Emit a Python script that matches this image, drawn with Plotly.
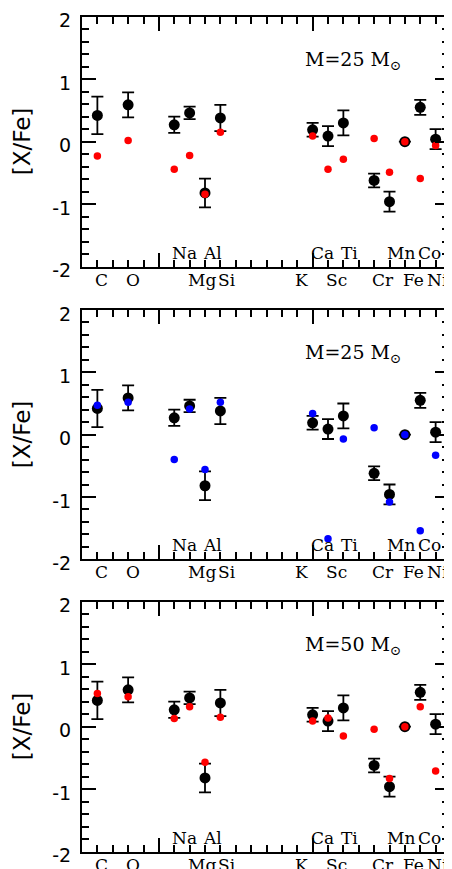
import plotly.graph_objects as go

# ---------------- data ----------------
label_elements = ["C", "O", "Na", "Mg", "Al", "Si", "K", "Ca", "Sc", "Ti", "Cr", "Mn", "Fe", "Co", "Ni"]
label_Z = [6, 8, 11, 12, 13, 14, 19, 20, 21, 22, 24, 25, 26, 27, 28]
label_upper = ["Na", "Al", "Ca", "Ti", "Mn", "Co"]

data_Z = [6, 8, 11, 12, 13, 14, 20, 21, 22, 24, 25, 26, 27, 28]
obs = [0.42, 0.59, 0.27, 0.46, -0.82, 0.38, 0.19, 0.09, 0.30, -0.62, -0.96, 0.0, 0.55, 0.04]
obs_err = [0.30, 0.20, 0.13, 0.10, 0.23, 0.21, 0.11, 0.16, 0.20, 0.11, 0.16, 0.0, 0.12, 0.16]

model_25_red = [-0.23, 0.02, -0.44, -0.22, -0.84, 0.15, 0.09, -0.44, -0.28, 0.05, -0.49, 0.0, -0.59, -0.06]
model_25_blue = [0.47, 0.52, -0.40, 0.41, -0.56, 0.52, 0.34, -1.67, -0.07, 0.11, -1.08, 0.0, -1.54, -0.33]
model_50_red = [0.53, 0.48, 0.13, 0.32, -0.57, 0.15, 0.09, 0.14, -0.15, -0.04, -0.83, 0.0, 0.32, -0.71]

panel_models = [model_25_red, model_25_blue, model_50_red]
panel_colors = ["#ff0000", "#0000ff", "#ff0000"]
panel_titles = ["M=25 M<sub>⊙</sub>", "M=25 M<sub>⊙</sub>", "M=50 M<sub>⊙</sub>"]

ytick_vals = [-2, -1, 0, 1, 2]
ytick_text = ["-2", "-1", "0", "1", "2"]
y_title = "[X/Fe]"

# ---------------- layout constants ----------------
# the page body adds an 8px offset, so the figure is sized to fit the window
OFF = 8
W, H = 452 - OFF, 869 - OFF
ML = 82.3 - OFF
MR = W - (448.7 - OFF)
panel_top_px = [16.7 - OFF, 310.0 - OFF, 601.7 - OFF]
panel_bot_px = [266.7 - OFF, 559.3 - OFF, 851.7 - OFF]
x_range = [5.0, 28.87]
y_range = [-2, 2]

fig = go.Figure()

for i in range(3):
    ax = "" if i == 0 else str(i + 1)
    xref, yref = "x" + ax, "y" + ax
    fig.add_trace(go.Scatter(
        x=data_Z, y=obs, mode="markers",
        marker=dict(color="black", size=11),
        error_y=dict(type="data", array=obs_err, color="black", thickness=1.8, width=6),
        xaxis=xref, yaxis=yref, showlegend=False, cliponaxis=False,
    ))
    fig.add_trace(go.Scatter(
        x=data_Z, y=panel_models[i], mode="markers",
        marker=dict(color=panel_colors[i], size=7.5),
        xaxis=xref, yaxis=yref, showlegend=False, cliponaxis=False,
    ))

    dom = [1 - panel_bot_px[i] / H, 1 - panel_top_px[i] / H]
    xa = dict(
        domain=[0, 1], range=x_range, anchor=yref, automargin=False,
        showline=True, linecolor="black", linewidth=2, mirror="allticks",
        ticks="inside", tickvals=[10, 20], ticklen=14, tickwidth=1.5, tickcolor="black",
        showticklabels=False, showgrid=False, zeroline=False,
        minor=dict(ticks="inside", dtick=1, tick0=0, ticklen=7, tickwidth=1.5,
                   tickcolor="black", showgrid=False),
    )
    ya = dict(
        domain=dom, range=y_range, anchor=xref, automargin=False,
        showline=True, linecolor="black", linewidth=2, mirror="allticks",
        ticks="inside", tickvals=ytick_vals, ticktext=ytick_text,
        ticklen=14, tickwidth=1.5, tickcolor="black",
        tickfont=dict(family="DejaVu Sans", size=19, color="black"),
        ticklabelstandoff=5, ticklabelshift=4, ticklabeloverflow="allow",
        showgrid=False, zeroline=False,
        minor=dict(ticks="inside", dtick=0.2, tick0=0, ticklen=7, tickwidth=1.5,
                   tickcolor="black", showgrid=False),
    )
    fig.update_layout(**{"xaxis" + ax: xa, "yaxis" + ax: ya})

    # element labels
    for k, (el, z) in enumerate(zip(label_elements, label_Z)):
        upper = el in label_upper
        last = k == len(label_elements) - 1
        fig.add_annotation(
            x=x_range[1] if last else z - 0.2, y=-2, xref=xref, yref=yref,
            text=el, showarrow=False, borderpad=0,
            xanchor="right" if last else "left", yanchor="middle",
            yshift=14 if upper else -13,
            font=dict(family="DejaVu Serif", size=17, color="black"),
        )
    # mass label
    fig.add_annotation(
        x=19.35, y=1.3, xref=xref, yref=yref, text=panel_titles[i], showarrow=False,
        xanchor="left", yanchor="middle",
        font=dict(family="DejaVu Serif", size=19, color="black"),
    )
    # y title
    fig.add_annotation(
        x=(22 - 82.3) / (W - ML - MR), y=(dom[0] + dom[1]) / 2, xref="paper", yref="paper",
        text=y_title, showarrow=False, textangle=-90,
        xanchor="center", yanchor="middle",
        font=dict(family="DejaVu Sans", size=23, color="black"),
    )

fig.update_layout(
    width=W, height=H,
    margin=dict(l=ML, r=MR, t=0, b=0, autoexpand=False),
    paper_bgcolor="white", plot_bgcolor="white",
    showlegend=False,
)

fig.write_html("out.html")
